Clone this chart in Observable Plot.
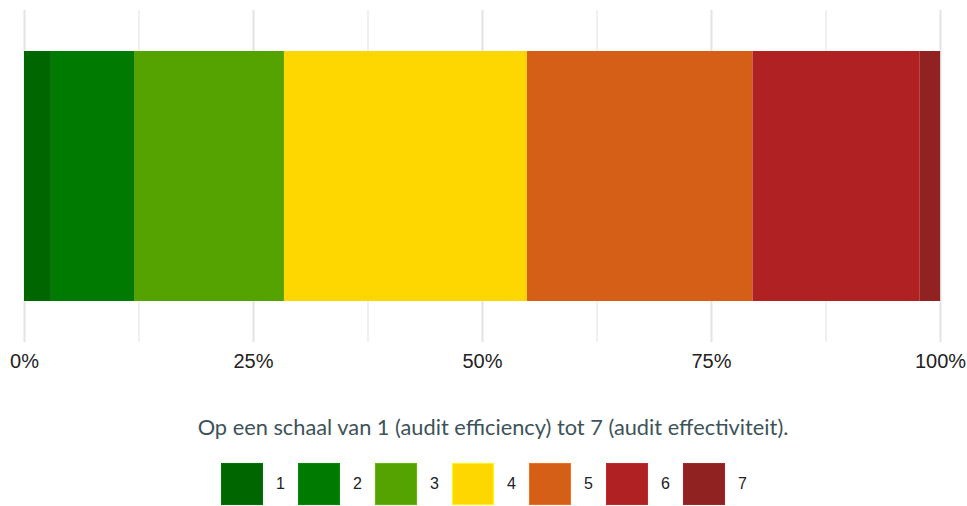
<!DOCTYPE html>
<html>
<head>
<meta charset="utf-8">
<script src="https://cdn.jsdelivr.net/npm/d3@7"></script>
<script src="https://cdn.jsdelivr.net/npm/@observablehq/plot@0.6"></script>
<style>
  html, body { margin: 0; padding: 0; background: #fff; }
  #wrap { position: relative; width: 967px; height: 506px; overflow: hidden; }
  #chart { position: absolute; left: 0; top: 0; }
  #caption { position: absolute; left: 0; width: 986px; top: 413px; text-align: center;
    font-family: Lato, "Open Sans", sans-serif; font-size: 21.8px; color: #3d5358; line-height: 28px; }
  #legend { position: absolute; left: 221px; top: 463px; display: flex; align-items: center;
    font-family: "Liberation Sans", Arial, sans-serif; font-size: 16px; color: #222; }
  .sw { width: 42px; height: 42px; box-sizing: border-box; }
  .lb { width: 35px; text-align: center; }
</style>
</head>
<body>
<div id="wrap">
  <div id="chart"></div>
  <div id="caption"></div>
  <div id="legend"></div>
</div>
<script>
const categories = ["1", "2", "3", "4", "5", "6", "7"];
const shares = [2.84, 9.17, 16.37, 26.52, 24.63, 18.26, 2.22];
const colors = ["#006600", "#007A00", "#54A300", "#FED700", "#D55F16", "#B02124", "#902222"];
const gridValues = [12.5, 37.5, 62.5, 87.5];
const tickValues = [0, 25, 50, 75, 100];
const tickLabels = ["0%", "25%", "50%", "75%", "100%"];
const captionText = "Op een schaal van 1 (audit efficiency) tot 7 (audit effectiviteit).";

const data = categories.map((c, i) => ({category: c, share: shares[i], row: "all"}));

const chart = Plot.plot({
  width: 967,
  height: 385,
  marginLeft: 24,
  marginRight: 27,
  marginTop: 10,
  marginBottom: 43,
  style: {fontFamily: "'Liberation Sans', Arial, sans-serif", background: "#fff"},
  x: {domain: [0, 100], axis: null},
  y: {domain: ["all"], axis: null, padding: 0},
  color: {domain: categories, range: colors},
  marks: [
    Plot.ruleX(gridValues, {stroke: "#ebebeb", strokeWidth: 1.5}),
    Plot.ruleX(tickValues, {stroke: "#e3e3e3", strokeWidth: 2}),
    Plot.barX(data, Plot.stackX({x: "share", y: "row", fill: "category", insetTop: 41, insetBottom: 41})),
    Plot.axisX(tickValues, {
      anchor: "bottom",
      label: null,
      tickSize: 0,
      tickPadding: 11,
      fontSize: 20,
      fill: "#222",
      tickFormat: d => tickLabels[tickValues.indexOf(d)]
    })
  ]
});
document.getElementById("chart").appendChild(chart);

document.getElementById("caption").textContent = captionText;

const legend = document.getElementById("legend");
categories.forEach((c, i) => {
  const sw = document.createElement("div");
  sw.className = "sw";
  sw.style.background = colors[i];
  sw.style.border = "1px solid " + d3.color(colors[i]).brighter(0.4).formatHex();
  const lb = document.createElement("div");
  lb.className = "lb";
  lb.textContent = c;
  legend.appendChild(sw);
  legend.appendChild(lb);
});
</script>
</body>
</html>
